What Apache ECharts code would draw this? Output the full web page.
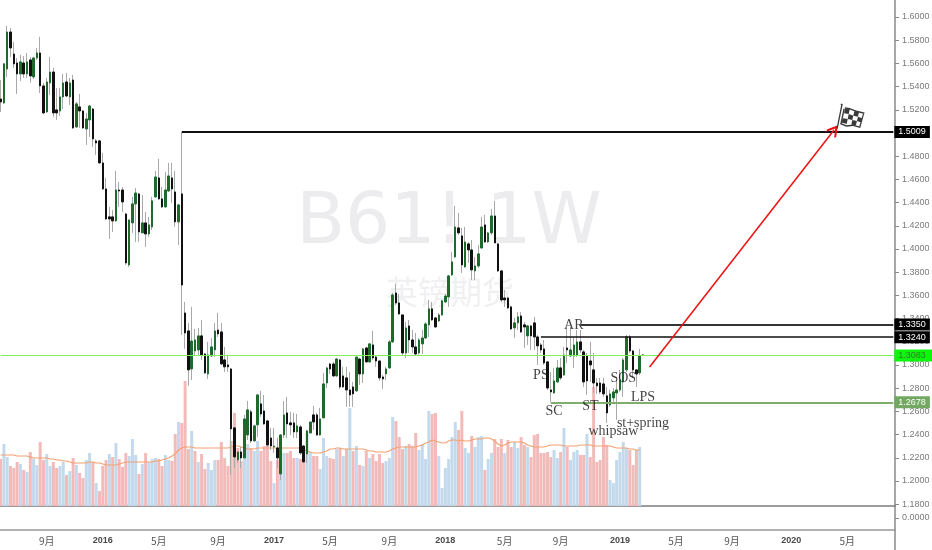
<!DOCTYPE html>
<html><head><meta charset="utf-8">
<style>html,body{margin:0;padding:0;background:#fff}#c{width:932px;height:550px}</style>
<script src="https://cdn.jsdelivr.net/npm/echarts@6/dist/echarts.min.js"></script>
</head><body><div id="c"></div>
<script>
const opens=[1.5293,1.5259,1.5552,1.5871,1.5681,1.5604,1.5509,1.5604,1.5509,1.5630,1.5483,1.5647,1.5690,1.5406,1.5182,1.5432,1.5526,1.5199,1.5190,1.5311,1.5440,1.5311,1.5457,1.5052,1.5225,1.5190,1.5035,1.5113,1.5207,1.4932,1.4932,1.4742,1.4518,1.4277,1.4277,1.4242,1.4509,1.4509,1.4302,1.3863,1.4225,1.4389,1.4475,1.4139,1.4225,1.4130,1.4190,1.4449,1.4613,1.4432,1.4363,1.4500,1.4613,1.4492,1.4234,1.4475,
1.3449,1.3294,1.2966,1.3121,1.3130,1.3251,1.3095,1.2923,1.3078,1.3130,1.3302,1.3285,1.3044,1.3001,1.2966,1.2458,1.2182,1.2251,1.2199,1.2397,1.2596,1.2346,1.2484,1.2665,1.2604,1.2518,1.2371,1.2294,1.2285,1.2061,1.2397,1.2587,1.2501,1.2501,1.2423,1.2466,1.2302,1.2234,1.2414,1.2570,1.2570,1.2397,1.2544,1.2845,1.3009,1.3009,1.2906,1.3044,1.2906,1.2889,1.2785,1.2811,1.2777,1.3052,1.2923,1.3147,1.3027,1.3173,1.3069,1.3035,1.2897,1.2923,1.2975,1.3199,1.3621,1.3535,1.3432,1.3104,1.3337,1.3216,1.3156,1.3104,1.3182,1.3233,1.3346,1.3484,1.3406,1.3380,1.3432,1.3544,1.3587,1.3777,1.3932,1.4182,1.4113,1.3846,1.4044,1.3992,1.3811,1.3854,1.4009,1.4208,1.4061,1.4139,1.4285,1.4044,1.3811,1.3578,1.3578,1.3501,1.3320,1.3363,1.3423,1.3346,1.3251,1.3337,1.3363,1.3242,1.3173,1.3139,1.3027,1.2785,1.2759,1.2854,1.2975,1.2914,1.3147,1.3078,1.3078,1.3087,1.3199,1.3113,1.3078,1.3035,1.2958,1.2845,1.2845,1.2837,1.2734,1.2656,1.2716,1.2759,1.2785,1.2854,1.2958,1.3242,1.3121,1.2958,1.2932,1.3087];
const closes=[1.5268,1.5596,1.5871,1.5733,1.5596,1.5509,1.5613,1.5509,1.5613,1.5492,1.5647,1.5690,1.5406,1.5173,1.5440,1.5526,1.5173,1.5173,1.5311,1.5432,1.5319,1.5432,1.5044,1.5251,1.5190,1.5044,1.5121,1.5233,1.4949,1.4914,1.4742,1.4518,1.4259,1.4259,1.4242,1.4509,1.4500,1.4406,1.3880,1.4251,1.4389,1.4483,1.4147,1.4225,1.4130,1.4208,1.4415,1.4621,1.4432,1.4363,1.4509,1.4630,1.4518,1.4234,1.4380,1.3690,
1.3276,1.2958,1.3207,1.3216,1.3251,1.3087,1.2932,1.3087,1.3156,1.3294,1.3268,1.3009,1.2984,1.2984,1.2449,1.2208,1.2251,1.2199,1.2535,1.2613,1.2346,1.2475,1.2742,1.2578,1.2492,1.2311,1.2302,1.2302,1.2199,1.2397,1.2570,1.2492,1.2484,1.2423,1.2475,1.2242,1.2165,1.2432,1.2509,1.2509,1.2397,1.2535,1.2837,1.2975,1.2966,1.2906,1.3052,1.2811,1.2811,1.2785,1.2742,1.2751,1.3069,1.2923,1.3139,1.3027,1.3182,1.3061,1.3035,1.2889,1.2880,1.2966,1.3199,1.3604,1.3535,1.3440,1.3104,1.3320,1.3216,1.3156,1.3095,1.3216,1.3233,1.3354,1.3484,1.3389,1.3328,1.3432,1.3553,1.3595,1.3768,1.3889,1.4190,1.4139,1.3863,1.4061,1.3992,1.3820,1.3854,1.3958,1.4190,1.4061,1.4139,1.4285,1.4052,1.3811,1.3561,1.3561,1.3492,1.3311,1.3363,1.3415,1.3285,1.3328,1.3337,1.3251,1.3242,1.3165,1.3130,1.3018,1.2802,1.2768,1.2863,1.2975,1.2889,1.3087,1.3130,1.3130,1.3173,1.3199,1.3130,1.2854,1.2863,1.3001,1.2845,1.2820,1.2768,1.2751,1.2587,1.2751,1.2768,1.2785,1.2871,1.3044,1.3242,1.3121,1.2958,1.2923,1.3078,1.3083];
const highs=[1.5457,1.5604,1.5923,1.5906,1.5785,1.5647,1.5673,1.5664,1.5690,1.5656,1.5656,1.5733,1.5828,1.5432,1.5475,1.5656,1.5561,1.5388,1.5388,1.5509,1.5518,1.5475,1.5500,1.5268,1.5337,1.5199,1.5173,1.5242,1.5216,1.4949,1.4940,1.4828,1.4613,1.4363,1.4337,1.4673,1.4578,1.4535,1.4311,1.4251,1.4449,1.4526,1.4483,1.4466,1.4320,1.4277,1.4449,1.4673,1.4777,1.4535,1.4664,1.4742,1.4742,1.4673,1.4389,1.5009,
1.3544,1.3363,1.3501,1.3311,1.3320,1.3389,1.3104,1.3199,1.3233,1.3363,1.3449,1.3363,1.3156,1.3087,1.2975,1.2458,1.2251,1.2294,1.2570,1.2690,1.2613,1.2484,1.2751,1.2777,1.2742,1.2527,1.2458,1.2458,1.2371,1.2406,1.2690,1.2725,1.2596,1.2587,1.2578,1.2484,1.2311,1.2440,1.2509,1.2647,1.2587,1.2630,1.2932,1.2984,1.3018,1.3027,1.3061,1.3052,1.2984,1.2984,1.2940,1.2854,1.3069,1.3061,1.3147,1.3156,1.3190,1.3294,1.3078,1.3035,1.2914,1.2984,1.3216,1.3621,1.3699,1.3613,1.3432,1.3371,1.3389,1.3302,1.3276,1.3233,1.3302,1.3371,1.3561,1.3544,1.3415,1.3449,1.3561,1.3613,1.3777,1.3975,1.4371,1.4311,1.4182,1.4190,1.4061,1.4078,1.3932,1.4035,1.4277,1.4294,1.4147,1.4345,1.4415,1.4052,1.3820,1.3647,1.3587,1.3509,1.3406,1.3458,1.3458,1.3371,1.3346,1.3346,1.3415,1.3259,1.3190,1.3216,1.3035,1.2940,1.2975,1.3044,1.3061,1.3156,1.3328,1.3328,1.3233,1.3302,1.3302,1.3130,1.3104,1.3199,1.3104,1.2889,1.2889,1.2889,1.2811,1.2785,1.2802,1.2871,1.2958,1.3061,1.3259,1.3259,1.3130,1.2958,1.3139,1.3095];
const lows=[1.5182,1.5251,1.5483,1.5656,1.5561,1.5337,1.5449,1.5475,1.5475,1.5432,1.5466,1.5630,1.5345,1.5164,1.5173,1.5328,1.5138,1.5113,1.5147,1.5207,1.5311,1.5242,1.5035,1.5044,1.5044,1.5035,1.4897,1.4966,1.4880,1.4811,1.4734,1.4509,1.4251,1.4087,1.4147,1.4234,1.4363,1.4320,1.3863,1.3846,1.4139,1.4061,1.4061,1.4139,1.4018,1.4104,1.4164,1.4440,1.4423,1.4354,1.4354,1.4492,1.4397,1.4190,1.4035,1.3259,
1.3139,1.2820,1.2871,1.3087,1.3078,1.3044,1.2923,1.2880,1.3069,1.3069,1.3242,1.3001,1.2940,1.2940,1.2052,1.2113,1.2156,1.2113,1.2199,1.2354,1.2328,1.2337,1.2380,1.2553,1.2484,1.2294,1.2268,1.2242,1.2113,1.2009,1.2371,1.2371,1.2397,1.2371,1.2371,1.2225,1.2156,1.2156,1.2414,1.2440,1.2389,1.2389,1.2544,1.2802,1.2923,1.2897,1.2897,1.2794,1.2802,1.2639,1.2639,1.2639,1.2768,1.2828,1.2845,1.3018,1.3018,1.3044,1.2984,1.2863,1.2794,1.2871,1.2966,1.3190,1.3518,1.3432,1.3087,1.3061,1.3104,1.3104,1.3078,1.3087,1.3095,1.3225,1.3242,1.3380,1.3320,1.3371,1.3423,1.3535,1.3501,1.3768,1.3923,1.4121,1.3794,1.3837,1.3880,1.3733,1.3733,1.3837,1.4001,1.4052,1.4052,1.4121,1.4052,1.3802,1.3544,1.3501,1.3484,1.3302,1.3233,1.3302,1.3276,1.3147,1.3173,1.3130,1.3130,1.3001,1.3104,1.3001,1.2785,1.2682,1.2751,1.2845,1.2871,1.2906,1.3018,1.3069,1.2975,1.3069,1.3104,1.2811,1.2742,1.2854,1.2759,1.2751,1.2751,1.2725,1.2501,1.2639,1.2673,1.2527,1.2768,1.2725,1.2940,1.3104,1.2889,1.2811,1.2914,1.3078];
const volumes=[47,62,49,40,38,44,42,36,34,54,47,41,64,46,52,40,44,38,40,44,31,35,48,41,33,28,46,53,44,23,15,40,46,52,49,63,47,39,53,50,67,51,32,42,53,44,47,48,47,40,51,46,45,72,84,83,125,57,75,55,44,52,37,43,36,46,46,64,48,40,65,93,
58,45,58,62,58,55,65,55,60,65,45,23,46,58,53,53,55,48,48,47,48,73,54,50,50,37,68,50,48,47,57,58,50,57,98,55,60,41,40,55,48,52,45,52,43,45,48,89,85,69,57,60,62,60,73,56,62,47,95,92,93,50,18,38,47,69,84,76,95,58,53,70,59,69,70,36,47,53,67,59,67,53,66,59,64,58,69,61,59,49,71,72,53,53,54,49,56,48,54,78,59,46,54,56,51,51,72,49,119,44,46,69,61,26,23,46,54,64,58,56,41,56,59,0];
const volumeAverage=[51,51,51,51,51,50,50,50,50,49,48,48,48,48,48,47,47,46,46,45,45,44,43,43,43,43,43,44,44,43,43,42,41,41,41,41,42,43,44,44,44,44,44,44,44,44,44,45,45,46,47,48,50,52,56,58,59,59,59,58,58,58,58,58,58,58,58,58,58,58,59,60,60,59,58,57,57,57,58,58,58,58,58,58,58,58,58,58,58,58,58,58,57,55,54,53,53,53,54,55,57,57,58,58,57,57,57,57,57,57,57,56,55,55,54,54,54,54,55,57,58,59,59,59,59,59,59,60,61,63,64,66,65,64,63,63,65,66,66,65,66,65,65,66,67,67,67,68,68,67,65,62,60,61,63,64,64,64,64,63,61,60,59,59,59,59,60,61,61,61,61,60,60,60,60,60,61,61,61,61,60,60,60,60,60,60,59,58,58,58,58,57,57,56,56,null];
const blueVolumeOnDownWeeks=[29,33,104,106,142,153,178];
const pinkVolumeOnUpWeeks=[59,72];
const weekCount=272;
const tickWeeks=[14,31,48,66,83,100,118,135,153,170,188,205,222,240,257];
const tickLabels=['9月','2016','5月','9月','2017','5月','9月','2018','5月','9月','2019','5月','9月','2020','5月'];
const priceTicks=[1.18,1.20,1.22,1.24,1.26,1.28,1.30,1.32,1.34,1.36,1.38,1.40,1.42,1.44,1.46,1.48,1.50,1.52,1.54,1.56,1.58,1.60];
const levelPrices=[1.5009,1.3350,1.3240,1.3083,1.2678];
const levelStartWeeks=[55,176,164,0,167];
const annotationTexts=['AR','PS','SC','ST','SOS','LPS','st+spring','whipsaw'];
const annotationWeeks=[174,164,168,179,189,195,195,186];
const annotationPrices=[1.3346,1.2914,1.2604,1.2647,1.2889,1.2725,1.2501,1.2432];
const arrowWeeks=[197,253];
const arrowPrices=[1.2983,1.5026];
const flagWeek=258, flagPrice=1.5147;

const AXISFONT='"Liberation Sans",sans-serif';
const categories=Array.from({length:weekCount},(_,i)=>String(i));
const labelOf={};tickWeeks.forEach((w,i)=>labelOf[w]=tickLabels[i]);
const levelStyles=[
 {line:'#111',width:2,bg:'#000',fg:'#fff',pr:4},
 {line:'#333',width:2,bg:'#000',fg:'#fff',pr:4},
 {line:'#111',width:1.5,bg:'#000',fg:'#fff',pr:4},
 {line:'#7df05a',width:1.2,bg:'#0cf70c',fg:'#2f7d2f',pr:7},
 {line:'#7fae6b',width:2,bg:'#73a860',fg:'#fff',pr:4}];
const levelLines=levelPrices.map((p,i)=>{const s=levelStyles[i];return [{
  coord:[levelStartWeeks[i],p],symbol:'none',
  lineStyle:{color:s.line,width:s.width,type:'solid',opacity:1},
  label:{show:true,position:'end',distance:1,formatter:p.toFixed(4),color:s.fg,backgroundColor:s.bg,
    padding:[2,s.pr,1,4],fontSize:9,fontFamily:AXISFONT,lineHeight:9}
 },{coord:[weekCount-1,p],symbol:'none'}];});
const arrowHead='path://M0 11 L10 0 L20 11 L18 13 L10 4.5 L2 13 Z';
const arrowLine=[{coord:[arrowWeeks[0],arrowPrices[0]],symbol:'none',lineStyle:{color:'#ee1111',width:1.5,type:'solid',opacity:1},label:{show:false}},
 {coord:[arrowWeeks[1],arrowPrices[1]],symbol:arrowHead,symbolSize:12}];
const flagPath='path://M0 71 L14 5 L12 3 L15 0 L19 2 L18 6 L4 71 Z '
 +'M22 10 L40 13 L60 20 L85 26 L84 30 L60 24 L40 17 L21 14 Z M85 26 L73 66 L69 65 L81 27 Z '
 +'M12 55 L30 62 L50 60 L73 66 L72 70 L50 64 L30 66 L11 59 Z M22 10 L12 55 L16 56 L26 11 Z '
 +'M26 14 L40 17 L37 30 L23 28 Z M54 22 L68 26 L65 38 L51 35 Z M37 30 L51 35 L48 47 L34 44 Z '
 +'M65 38 L78 42 L75 54 L62 50 Z M20 42 L34 44 L31 58 L16 54 Z M48 47 L62 50 L59 61 L45 60 Z';

const chart=echarts.init(document.getElementById('c'),null,{renderer:'canvas'});
chart.setOption({
 animation:false,backgroundColor:'#fff',
 title:[
  {text:'B61! 1W',left:444,top:184,textAlign:'center',z:0,textStyle:{fontFamily:'"DejaVu Sans"',fontSize:71,fontWeight:'normal',color:'#ecebee'}},
  {text:'英镑期货',left:445,top:271,textAlign:'center',z:0,textStyle:{fontFamily:'"Noto Sans CJK SC"',fontSize:32,fontWeight:'normal',color:'#f0eff1'}}],
 grid:[{left:-1,top:0,width:896,height:506,outerBoundsMode:'none'},{left:-1,top:506,width:896,height:24,outerBoundsMode:'none'}],
 xAxis:[
  {type:'category',gridIndex:0,data:categories,boundaryGap:true,axisLine:{onZero:false,lineStyle:{color:'#7d7d7d',width:1.5}},axisTick:{show:false},axisLabel:{show:false},splitLine:{show:false}},
  {type:'category',gridIndex:1,data:categories,boundaryGap:true,axisLine:{onZero:false,lineStyle:{color:'#999',width:1.5}},
   axisTick:{alignWithLabel:true,length:3,lineStyle:{color:'#888'},interval:(i)=>labelOf[i]!==undefined},
   axisLabel:{interval:(i)=>labelOf[i]!==undefined,margin:6,hideOverlap:false,
     formatter:(v,i)=>{const t=labelOf[i]||'';return /^\d+$/.test(t)?'{y|'+t+'}':'{m|'+t+'}';},
     rich:{y:{fontFamily:AXISFONT,fontWeight:'bold',fontSize:9,color:'#4a4a4a'},m:{fontFamily:'"Noto Sans CJK SC"',fontSize:10,color:'#555'}}},
   splitLine:{show:false}}],
 yAxis:[
  {type:'value',gridIndex:0,position:'right',min:1.17845,max:1.61466,scale:true,splitLine:{show:false},
   axisLine:{show:true,lineStyle:{color:'#8a8a8a',width:1.5}},
   axisTick:{show:true,length:4,lineStyle:{color:'#888'},customValues:priceTicks},
   axisLabel:{customValues:priceTicks,margin:7,color:'#7a7a7a',fontSize:9,fontFamily:AXISFONT,formatter:v=>v.toFixed(4)}},
  {type:'value',gridIndex:0,min:0,max:506,show:false,splitLine:{show:false}},
  {type:'value',gridIndex:1,position:'right',min:-1,max:1,splitLine:{show:false},
   axisLine:{show:true,lineStyle:{color:'#8a8a8a',width:1.5}},
   axisTick:{show:true,length:4,lineStyle:{color:'#888'},customValues:[0]},
   axisLabel:{customValues:[0],margin:7,color:'#7a7a7a',fontSize:9,fontFamily:AXISFONT,formatter:v=>v.toFixed(4)}}],
 graphic:[{type:'line',z:1,shape:{x1:895,y1:530,x2:895,y2:550},style:{stroke:'#8a8a8a',lineWidth:1.5}}],
 series:[
  {name:'Volume',type:'bar',xAxisIndex:0,yAxisIndex:1,barWidth:3,z:1,
   data:volumes.map((v,i)=>{
     const down=closes[i]<opens[i];
     const blue=blueVolumeOnDownWeeks.includes(i)||(!down&&!pinkVolumeOnUpWeeks.includes(i));
     return {value:v,itemStyle:{color:blue?'#c3d9ec':'#f3baba'}};})},
  {name:'Volume MA',type:'line',xAxisIndex:0,yAxisIndex:1,z:2,symbol:'none',data:volumeAverage,lineStyle:{color:'#f4a270',width:1.2},silent:true},
  {name:'Wicks',type:'candlestick',xAxisIndex:0,yAxisIndex:0,z:3,barWidth:1,
   itemStyle:{color:'#a9a9a9',color0:'#a9a9a9',borderColor:'#a9a9a9',borderColor0:'#a9a9a9',borderWidth:1},
   data:opens.map((o,i)=>[o,closes[i],lows[i],highs[i]])},
  {name:'Bodies',type:'candlestick',xAxisIndex:0,yAxisIndex:0,z:4,barWidth:2,clip:false,
   itemStyle:{color:'#1d6a2c',color0:'#111',borderColor:'#1d6a2c',borderColor0:'#111',borderWidth:1},
   data:opens.map((o,i)=>[o,closes[i],Math.min(o,closes[i]),Math.max(o,closes[i])]),
   markLine:{silent:true,animation:false,symbol:'none',z:6,data:levelLines.concat([arrowLine])},
   markPoint:{silent:true,animation:false,z:6,label:{show:false},
     data:[{coord:[flagWeek,flagPrice],symbol:flagPath,symbolSize:[28,25],symbolKeepAspect:false,itemStyle:{color:'#3a3a3a'}}]}},
  {name:'Annotations',type:'scatter',xAxisIndex:0,yAxisIndex:0,z:7,symbolSize:0,silent:true,
   data:annotationTexts.map((t,i)=>({value:[annotationWeeks[i],annotationPrices[i]],name:t})),
   label:{show:true,position:'inside',formatter:p=>p.name,color:'#111',fontFamily:'"Liberation Serif",serif',fontSize:14}}
 ]
});
</script></body></html>
